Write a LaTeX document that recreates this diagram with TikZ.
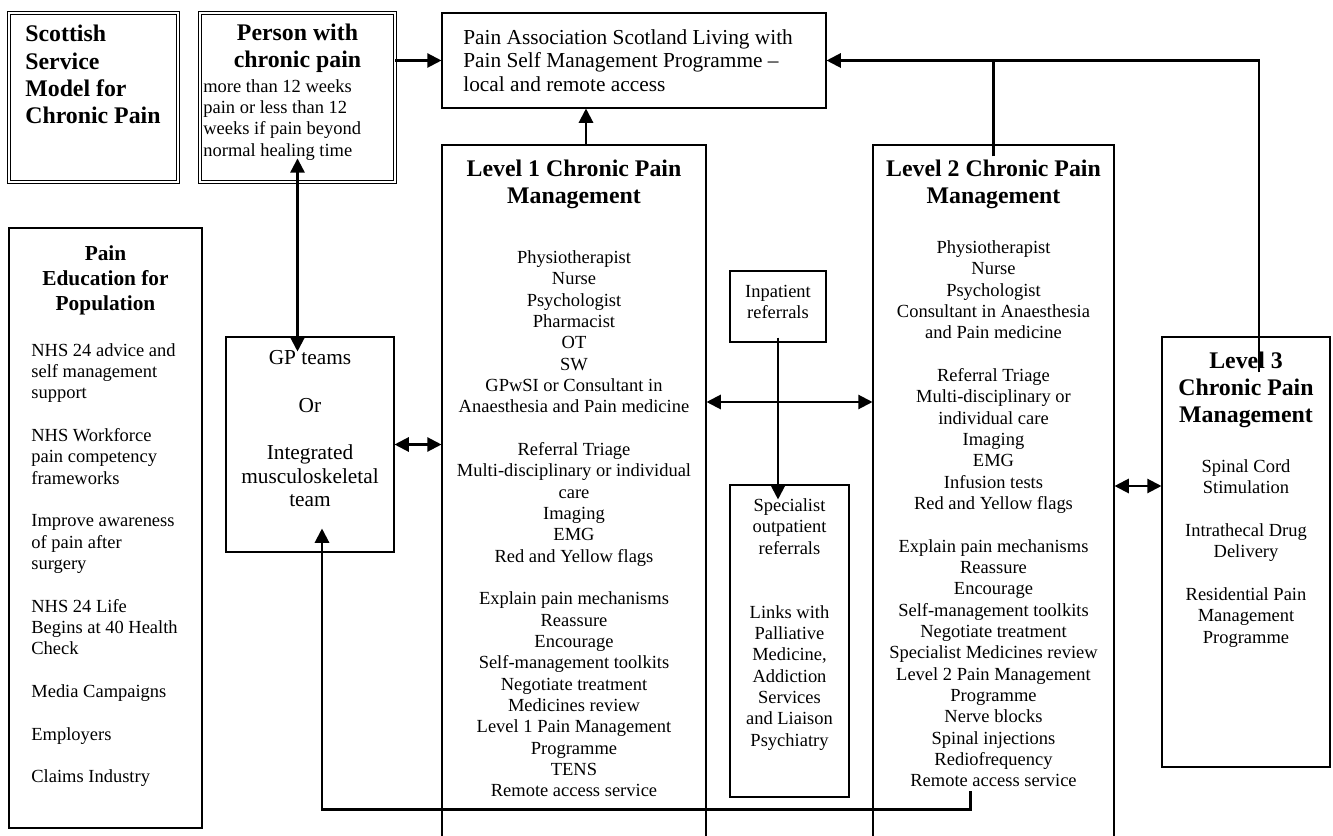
\documentclass[tikz,border=0pt]{standalone}
\usepackage{fontspec}
\setmainfont{Liberation Serif}
\usetikzlibrary{arrows.meta,calc,fit}

\newcommand{\txtbody}{\fontsize{10.4}{12}\selectfont}
\newcommand{\txtmid}{\fontsize{12}{13.3}\selectfont}
\newcommand{\txthead}{\fontsize{13.4}{15.3}\selectfont\bfseries}
\newcommand{\txtsub}{\fontsize{12}{14}\selectfont\bfseries}

\begin{document}
\begin{tikzpicture}[
    x=0.5625pt, y=-0.5625pt,
    box/.style={draw, line width=0.6pt, inner sep=0pt},
    dbox/.style={draw, double, double distance=1pt, line width=0.5pt, inner sep=0pt},
    txt/.style={inner sep=0pt, align=center, font=\txtbody},
    link/.style={line width=1.2pt},
    arr/.style={link, -{Triangle[length=8pt,width=8pt]}},
    darr/.style={link, {Triangle[length=8pt,width=8pt]}-{Triangle[length=8pt,width=8pt]}}
    ]
  \useasboundingbox (0,0) rectangle (1333,836);
  \clip (0,0) rectangle (1333,836);

  % boxes
  \node[dbox, fit={(9,13) (178,182)}] (title) {};
  \node[dbox, fit={(200,13) (395,182)}] (person) {};
  \node[box, fit={(442,13) (826,108)}] (pas) {};
  \node[box, fit={(9,228) (202,828)}] (edu) {};
  \node[box, fit={(226,337) (394,552)}] (gp) {};
  \node[box, fit={(442,145) (706,870)}] (levone) {};
  \node[box, fit={(730,271) (826,342)}] (inpat) {};
  \node[box, fit={(730,485) (849,797)}] (spec) {};
  \node[box, fit={(873,145) (1114,870)}] (levtwo) {};
  \node[box, fit={(1162,337) (1330,767)}] (levthree) {};

  % texts
  \node[txt, font=\txthead, align=left, anchor=north west] (titletxt) at (25,25)
    {Scottish\\Service\\Model for\\Chronic Pain};
  \node[txt, font=\txthead, anchor=north] (personhead) at ($(person.north)+(0,11)$)
    {Person with\\chronic pain};
  \node[txt, align=left, anchor=north west] (persontxt) at (203,79)
    {more than 12 weeks\\pain or less than 12\\weeks if pain beyond\\normal healing time};
  \node[txt, font=\txtmid, align=left, anchor=north west] (pastxt) at (463,29)
    {Pain Association Scotland Living with\\Pain Self Management Programme --\\local and remote access};
  \node[txt, font=\txtsub, anchor=north] (eduhead) at ($(edu.north)+(0,18)$)
    {Pain\\Education for\\Population};
  \node[txt, align=left, anchor=north west] (edutxt) at (31,343)
    {NHS 24 advice and\\self management\\support\\[12pt]NHS Workforce\\pain competency\\frameworks\\[12pt]Improve awareness\\of pain after\\surgery\\[12pt]NHS 24 Life\\Begins at 40 Health\\Check\\[12pt]Media Campaigns\\[12pt]Employers\\[12pt]Claims Industry};
  \node[txt, font=\txtmid, anchor=north] (gptxt) at ($(gp.north)+(0,14)$)
    {GP teams\\[13.3pt]Or\\[13.3pt]Integrated\\musculoskeletal\\team};
  \node[txt, font=\txthead, anchor=north] (levonehead) at ($(levone.north)+(0,15)$)
    {Level 1 Chronic Pain\\Management};
  \node[txt, anchor=north] (levonetxt) at ($(levone.north)+(0,106)$)
    {Physiotherapist\\Nurse\\Psychologist\\Pharmacist\\OT\\SW\\GPwSI or Consultant in\\Anaesthesia and Pain medicine\\[12pt]Referral Triage\\Multi-disciplinary or individual\\care\\Imaging\\EMG\\Red and Yellow flags\\[12pt]Explain pain mechanisms\\Reassure\\Encourage\\Self-management toolkits\\Negotiate treatment\\Medicines review\\Level 1 Pain Management\\Programme\\TENS\\Remote access service};
  \node[txt, anchor=north] (inpattxt) at ($(inpat.north)+(0,14)$)
    {Inpatient\\referrals};
  \node[txt, anchor=north] (spectxt) at ($(spec.north)+(0,14)$)
    {Specialist\\outpatient\\referrals\\[24pt]Links with\\Palliative\\Medicine,\\Addiction\\Services\\and Liaison\\Psychiatry};
  \node[txt, font=\txthead, anchor=north] (levtwohead) at ($(levtwo.north)+(0,15)$)
    {Level 2 Chronic Pain\\Management};
  \node[txt, anchor=north] (levtwotxt) at ($(levtwo.north)+(0,96)$)
    {Physiotherapist\\Nurse\\Psychologist\\Consultant in Anaesthesia\\and Pain medicine\\[12pt]Referral Triage\\Multi-disciplinary or\\individual care\\Imaging\\EMG\\Infusion tests\\Red and Yellow flags\\[12pt]Explain pain mechanisms\\Reassure\\Encourage\\Self-management toolkits\\Negotiate treatment\\Specialist Medicines review\\Level 2 Pain Management\\Programme\\Nerve blocks\\Spinal injections\\Rediofrequency\\Remote access service};
  \node[txt, font=\txthead, anchor=north] (levthreehead) at ($(levthree.north)+(0,15)$)
    {Level 3\\Chronic Pain\\Management};
  \node[txt, anchor=north] (levthreetxt) at ($(levthree.north)+(0,123)$)
    {Spinal Cord\\Stimulation\\[12pt]Intrathecal Drug\\Delivery\\[12pt]Residential Pain\\Management\\Programme};

  % connectors
  \coordinate (lonetop) at ($(levone.north)+(12,0)$);
  \coordinate (ltwotop) at ($(levtwo.north)+(0,12)$);
  \coordinate (lthreetop) at ($(levthree.north)+(13,36)$);
  \coordinate (pgtop) at ($(person.south)+(0,-24)$);
  \coordinate (pgbot) at ($(pgtop |- gp.north)+(0,15)$);
  \coordinate (loopstart) at ($(levtwo.north west)+(98,647)$);
  \coordinate (loopend) at ($(gp.south)+(12,-24)$);

  \draw[arr] (person.east |- pas.west) -- (pas.west);
  \draw[arr] (lonetop) -- (lonetop |- pas.south);
  \draw[link] (ltwotop) -- (ltwotop |- pas.east);
  \draw[arr] (lthreetop) |- (pas.east);
  \draw[darr] (pgtop) -- (pgbot);
  \draw[darr] (gp.east) -- (gp.east -| levone.west);
  \draw[darr] (levone.east |- 0,402) -- (levtwo.west |- 0,402);
  \draw[arr] ($(inpat.south)+(0,-5)$) -- ($(inpat.south |- spec.north)+(0,15)$);
  \draw[darr] (levtwo.east |- 0,486) -- (levthree.west |- 0,486);
  \draw[arr] (loopstart) -- ++(0,18) -| (loopend);
\end{tikzpicture}
\end{document}
